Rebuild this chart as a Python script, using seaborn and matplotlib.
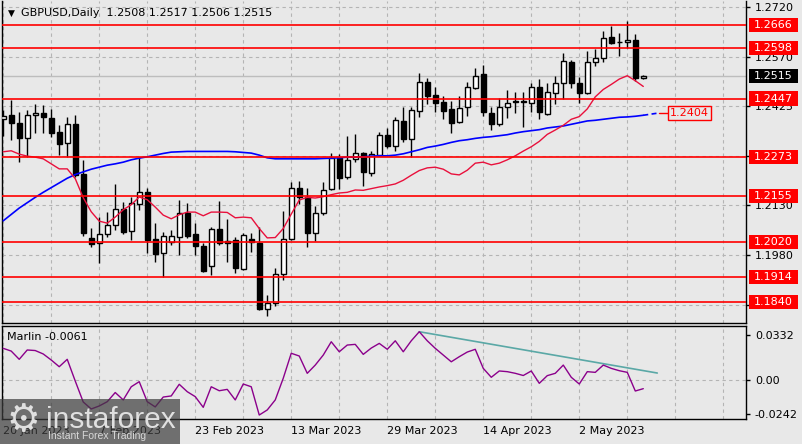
import matplotlib
matplotlib.use("Agg")
import matplotlib.pyplot as plt
import matplotlib.transforms as mtransforms
from matplotlib.patches import Rectangle
import numpy as np
import seaborn as sns

# GBPUSD daily candles, 20 Jan 2023 .. 12 May 2023
OPEN = [1.2386, 1.2398, 1.2375, 1.2330, 1.2398, 1.2404, 1.2389, 1.2348, 1.2315, 1.2372,
        1.2222, 1.2032, 1.2017, 1.2044, 1.2068, 1.2118, 1.2053, 1.2133, 1.2169, 1.2029,
        1.1987, 1.2020, 1.2035, 1.2106, 1.2044, 1.2008, 1.1948, 1.2059, 1.2023, 1.2026,
        1.1939, 1.2029, 1.2017, 1.1820, 1.1838, 1.1922, 1.2029, 1.2181, 1.2154, 1.2047,
        1.2106, 1.2178, 1.2270, 1.2214, 1.2267, 1.2285, 1.2225, 1.2279, 1.2339, 1.2306,
        1.2380, 1.2327, 1.2410, 1.2497, 1.2458, 1.2437, 1.2416, 1.2377, 1.2422, 1.2479,
        1.2521, 1.2404, 1.2372, 1.2422, 1.2440, 1.2439, 1.2434, 1.2482, 1.2401, 1.2464,
        1.2494, 1.2556, 1.2494, 1.2464, 1.2556, 1.2568, 1.2631, 1.2616, 1.2616, 1.2622,
        1.2508]
HIGH = [1.2413, 1.2443, 1.2407, 1.2413, 1.2431, 1.2428, 1.2416, 1.2369, 1.2392, 1.2398,
        1.2264, 1.2062, 1.2094, 1.2109, 1.2193, 1.2139, 1.2154, 1.2273, 1.2181, 1.2074,
        1.2050, 1.2056, 1.2145, 1.2136, 1.2074, 1.2017, 1.2065, 1.2142, 1.2088, 1.2035,
        1.2047, 1.2047, 1.2065, 1.1862, 1.1942, 1.2112, 1.2199, 1.2202, 1.2181, 1.2127,
        1.2199, 1.2285, 1.2282, 1.2336, 1.2342, 1.2288, 1.2291, 1.2348, 1.2360, 1.2392,
        1.2422, 1.2422, 1.2524, 1.2509, 1.2482, 1.2455, 1.2440, 1.2455, 1.2497, 1.2538,
        1.2547, 1.2422, 1.2449, 1.2473, 1.2467, 1.2467, 1.2494, 1.2506, 1.2494, 1.2515,
        1.2583, 1.2562, 1.2512, 1.2589, 1.2595, 1.2649, 1.2664, 1.2643, 1.2678, 1.2640,
        1.2517]
LOW = [1.2336, 1.2324, 1.2258, 1.2273, 1.2345, 1.2345, 1.2333, 1.2279, 1.2273, 1.2214,
       1.2038, 1.2005, 1.1957, 1.2035, 1.2056, 1.2044, 1.2026, 1.2115, 1.1987, 1.1960,
       1.1913, 1.2011, 1.1981, 1.2032, 1.1981, 1.1928, 1.1919, 1.2011, 1.1960, 1.1925,
       1.1936, 1.1990, 1.1817, 1.1799, 1.1829, 1.1904, 1.2026, 1.2133, 1.2005, 1.2023,
       1.2100, 1.2175, 1.2178, 1.2208, 1.2258, 1.2187, 1.2217, 1.2276, 1.2300, 1.2291,
       1.2318, 1.2273, 1.2392, 1.2431, 1.2407, 1.2386, 1.2345, 1.2375, 1.2395, 1.2476,
       1.2395, 1.2354, 1.2366, 1.2389, 1.2404, 1.2363, 1.2407, 1.2386, 1.2398, 1.2431,
       1.2446, 1.2479, 1.2434, 1.2461, 1.2544, 1.2556, 1.2610, 1.2574, 1.2598, 1.2500,
       1.2506]
CLOSE = [1.2395, 1.2375, 1.2330, 1.2398, 1.2404, 1.2392, 1.2345, 1.2312, 1.2372, 1.2220,
         1.2047, 1.2014, 1.2044, 1.2068, 1.2118, 1.2050, 1.2136, 1.2169, 1.2026, 1.1984,
         1.2038, 1.2038, 1.2106, 1.2038, 1.2008, 1.1933, 1.2059, 1.2017, 1.2017, 1.1942,
         1.2041, 1.2020, 1.1820, 1.1838, 1.1922, 1.2029, 1.2181, 1.2154, 1.2047, 1.2106,
         1.2175, 1.2270, 1.2211, 1.2264, 1.2285, 1.2228, 1.2282, 1.2339, 1.2306, 1.2383,
         1.2327, 1.2413, 1.2497, 1.2455, 1.2434, 1.2410, 1.2375, 1.2419, 1.2482, 1.2515,
         1.2407, 1.2372, 1.2422, 1.2434, 1.2437, 1.2437, 1.2482, 1.2407, 1.2467, 1.2494,
         1.2559, 1.2494, 1.2464, 1.2556, 1.2568, 1.2628, 1.2613, 1.2615, 1.2622, 1.2509,
         1.2515]

# moving averages as drawn on the chart
RED_MA = [1.2288, 1.2291, 1.2281, 1.2275, 1.2272, 1.2267, 1.2252, 1.2237, 1.2237, 1.2208,
          1.2151, 1.2109, 1.2081, 1.2075, 1.2093, 1.2115, 1.2130, 1.2153, 1.2145, 1.2123,
          1.2099, 1.2088, 1.2100, 1.2108, 1.2108, 1.2097, 1.2108, 1.2108, 1.2107, 1.2091,
          1.2093, 1.2091, 1.2059, 1.2031, 1.2032, 1.2059, 1.2102, 1.2144, 1.2152, 1.2150,
          1.2154, 1.2160, 1.2165, 1.2167, 1.2174, 1.2173, 1.2178, 1.2183, 1.2187, 1.2192,
          1.2203, 1.2218, 1.2232, 1.2240, 1.2242, 1.2236, 1.2222, 1.2219, 1.2233, 1.2254,
          1.2257, 1.2249, 1.2254, 1.2264, 1.2276, 1.2290, 1.2303, 1.2319, 1.2340, 1.2353,
          1.2367, 1.2385, 1.2393, 1.2416, 1.2452, 1.2474, 1.2489, 1.2505, 1.2515, 1.2500,
          1.2483]
BLUE_MA = [1.2082, 1.2101, 1.2120, 1.2136, 1.2152, 1.2167, 1.2181, 1.2195, 1.2209, 1.2220,
           1.2228, 1.2236, 1.2242, 1.2248, 1.2252, 1.2257, 1.2264, 1.2269, 1.2273, 1.2278,
           1.2283, 1.2287, 1.2288, 1.2289, 1.2289, 1.2289, 1.2289, 1.2289, 1.2289, 1.2288,
           1.2286, 1.2284, 1.2278, 1.2270, 1.2267, 1.2267, 1.2267, 1.2267, 1.2267, 1.2267,
           1.2268, 1.2269, 1.2270, 1.2272, 1.2272, 1.2273, 1.2275, 1.2276, 1.2276, 1.2278,
           1.2282, 1.2288, 1.2294, 1.2301, 1.2305, 1.2310, 1.2316, 1.2321, 1.2324, 1.2328,
           1.2331, 1.2333, 1.2336, 1.2339, 1.2344, 1.2348, 1.2351, 1.2354, 1.2359, 1.2362,
           1.2365, 1.2370, 1.2375, 1.2380, 1.2382, 1.2385, 1.2388, 1.2391, 1.2392, 1.2394,
           1.2397]
BLUE_PROJ = 1.2404
PROJ_BAR = 82

# Marlin oscillator
MARLIN = [0.0233, 0.0213, 0.0153, 0.0221, 0.0217, 0.0192, 0.0148, 0.0099, 0.0153, -0.0005,
          -0.0158, -0.0209, -0.0187, -0.0156, -0.0089, -0.0143, -0.0047, -0.0010, -0.0156, -0.0194,
          -0.0122, -0.0114, -0.0029, -0.0083, -0.0119, -0.0197, -0.0047, -0.0076, -0.0066, -0.0143,
          -0.0027, -0.0047, -0.0253, -0.0216, -0.0143, 0.0015, 0.0197, 0.0177, 0.0051, 0.0111,
          0.0184, 0.0281, 0.0208, 0.0257, 0.0262, 0.0189, 0.0235, 0.0269, 0.0226, 0.0288,
          0.0208, 0.0288, 0.0354, 0.0288, 0.0233, 0.0184, 0.0135, 0.0172, 0.0206, 0.0226,
          0.0087, 0.0022, 0.0068, 0.0063, 0.0051, 0.0035, 0.0068, -0.0022, 0.0034, 0.0051,
          0.0111, 0.0022, -0.0027, 0.0063, 0.0058, 0.0111, 0.0087, 0.0070, 0.0058, -0.0078,
          -0.0061]
TREND_BARS = [52, 81.75]
TREND_VALS = [0.0354, 0.0053]

LEVELS = [1.2666, 1.2598, 1.2447, 1.2273, 1.2155, 1.2020, 1.1914, 1.1840]
PRICE_TICKS = [1.1830, 1.1980, 1.2130, 1.2275, 1.2425, 1.2570, 1.2720]
MARLIN_TICKS = [-0.0242, 0.0, 0.0332]
MARLIN_TICK_LABELS = ["-0.0242", "0.00", "0.0332"]
LABEL_BARS = [0, 12, 24, 36, 48, 60, 72]
DATE_LABELS = ["20 Jan 2023", "7 Feb 2023", "23 Feb 2023", "13 Mar 2023",
               "29 Mar 2023", "14 Apr 2023", "2 May 2023"]

BG = "#E8E8E8"
GRID = "#B4B4B4"
LEVEL_RED = "#FF0000"

sns.set_style("white")
plt.rcParams["font.family"] = ["DejaVu Sans"]
plt.rcParams["font.size"] = 8

fig = plt.figure(figsize=(8.03, 4.44), dpi=100, facecolor=BG)
ax = fig.add_axes([2.5 / 803, 1 - 323 / 444, 744 / 803, 322 / 444])
ax2 = fig.add_axes([2.5 / 803, 1 - 419 / 444, 744 / 803, 93.3 / 444])

bars = np.arange(len(CLOSE))
o, h, l, c = (np.array(v) for v in (OPEN, HIGH, LOW, CLOSE))
up = c >= o

# --- price pane ---
ax.set_facecolor(BG)
ax.set_axisbelow(True)
ax.axhline(CLOSE[-1], color="#BDBDBD", lw=1, zorder=1)
ax.vlines(bars, l, h, color="black", lw=1, zorder=3)
ax.bar(bars[up], (c - o)[up], bottom=o[up], width=0.62, facecolor="white",
       edgecolor="black", linewidth=1, zorder=4)
ax.bar(bars[~up], (o - c)[~up], bottom=c[~up], width=0.62, facecolor="black",
       edgecolor="black", linewidth=1, zorder=4)

sns.lineplot(x=bars, y=BLUE_MA, ax=ax, color="#0000FF", linewidth=1.2, zorder=5)
sns.lineplot(x=bars, y=RED_MA, ax=ax, color="#E8103C", linewidth=1, zorder=5)
ax.plot([bars[-1], PROJ_BAR], [BLUE_MA[-1], BLUE_PROJ], color="#0000FF",
        lw=1.2, ls=(0, (3, 2)), zorder=5)
ax.plot([PROJ_BAR, PROJ_BAR + 1.1], [BLUE_PROJ, BLUE_PROJ], color=LEVEL_RED, lw=1, zorder=5)
ax.text(PROJ_BAR + 3.8, BLUE_PROJ, f"{BLUE_PROJ:.4f}", color=LEVEL_RED, fontsize=8,
        ha="center", va="center", zorder=6,
        bbox=dict(boxstyle="square,pad=0.2", facecolor=BG, edgecolor=LEVEL_RED, lw=1))

for lvl in LEVELS:
    ax.axhline(lvl, color=LEVEL_RED, lw=1.2, zorder=6)

ax.set_xlim(-0.09, 92.9)
ax.set_ylim(1.1777, 1.2738)
ax.set_xticks(np.arange(0, 93, 6))
ax.yaxis.tick_right()
ax.set_yticks(PRICE_TICKS)
ax.set_yticklabels([f"{v:.4f}" for v in PRICE_TICKS])
ax.tick_params(axis="x", length=0, labelbottom=False)
ax.tick_params(axis="y", length=3, width=1, pad=3, labelsize=8, colors="black")
ax.grid(True, color=GRID, ls=(0, (3, 3)), lw=0.8)
for sp in ax.spines.values():
    sp.set_color("black")
    sp.set_linewidth(1)
ax.spines["top"].set_visible(False)

trans = mtransforms.blended_transform_factory(ax.transAxes, ax.transData)
for lvl, fc in [(v, LEVEL_RED) for v in LEVELS] + [(CLOSE[-1], "black")]:
    ax.add_patch(Rectangle((1.0027, lvl - 0.0021), 0.0659, 0.0042, transform=trans,
                           facecolor=fc, edgecolor="none", clip_on=False, zorder=7))
    ax.text(1.0356, lvl, f"{lvl:.4f}", transform=trans, ha="center", va="center",
            color="white", fontsize=8, clip_on=False, zorder=8)

ax.text(0.0115, 0.963, "\u25bc", transform=ax.transAxes, fontsize=6.5,
        ha="center", va="center", color="black")
ax.text(0.025, 0.963, "GBPUSD,Daily  1.2508 1.2517 1.2506 1.2515", transform=ax.transAxes,
        fontsize=8, ha="left", va="center", color="black")

# --- Marlin pane ---
ax2.set_facecolor(BG)
ax2.set_axisbelow(True)
ax2.axhline(0, color=GRID, ls=(0, (3, 3)), lw=0.8, zorder=1)
sns.lineplot(x=TREND_BARS, y=TREND_VALS, ax=ax2, color="#5AA8A6", linewidth=1.2, zorder=3)
sns.lineplot(x=bars, y=MARLIN, ax=ax2, color="#8B008B", linewidth=1, zorder=4)
ax2.set_xlim(-0.09, 92.9)
ax2.set_ylim(-0.0282, 0.0398)
ax2.yaxis.tick_right()
ax2.set_yticks(MARLIN_TICKS)
ax2.set_yticklabels(MARLIN_TICK_LABELS)
ticks6 = np.arange(0, 93, 6)
ax2.set_xticks(ticks6)
ax2.set_xticklabels([DATE_LABELS[LABEL_BARS.index(t)] if t in LABEL_BARS else "" for t in ticks6],
                    ha="left")
ax2.tick_params(axis="x", length=0, pad=5, labelsize=8, colors="black")
ax2.tick_params(axis="y", length=3, width=1, pad=3, labelsize=8, colors="black")
ax2.grid(True, axis="x", color=GRID, ls=(0, (3, 3)), lw=0.8)
ax2.set_xlabel("")
ax2.set_ylabel("")
ax.set_xlabel("")
ax.set_ylabel("")
for sp in ax2.spines.values():
    sp.set_color("black")
    sp.set_linewidth(1)
ax2.text(0.006, 0.88, "Marlin -0.0061", transform=ax2.transAxes, fontsize=8,
         ha="left", va="center", color="black")

# --- watermark ---
fig.add_artist(Rectangle((0, 0), 180 / 803, 45 / 444, transform=fig.transFigure,
                         facecolor="#3C3C3C", edgecolor="none", alpha=0.7, zorder=10))
fig.text(23 / 803, 1 - 421 / 444, "\u2699", fontsize=27, color="#E0E0E0",
         ha="center", va="center", zorder=11)
fig.text(46 / 803, 1 - 428 / 444, "instaforex", fontsize=21.5, color="#E0E0E0",
         family=["Liberation Sans", "DejaVu Sans"], ha="left", va="baseline", zorder=11)
fig.text(48 / 803, 1 - 436 / 444, "Instant Forex Trading", fontsize=7.5, color="#D8D8D8",
         family=["Liberation Sans", "DejaVu Sans"], ha="left", va="center", zorder=11)

fig.savefig("out.png", dpi=100, facecolor=BG)
